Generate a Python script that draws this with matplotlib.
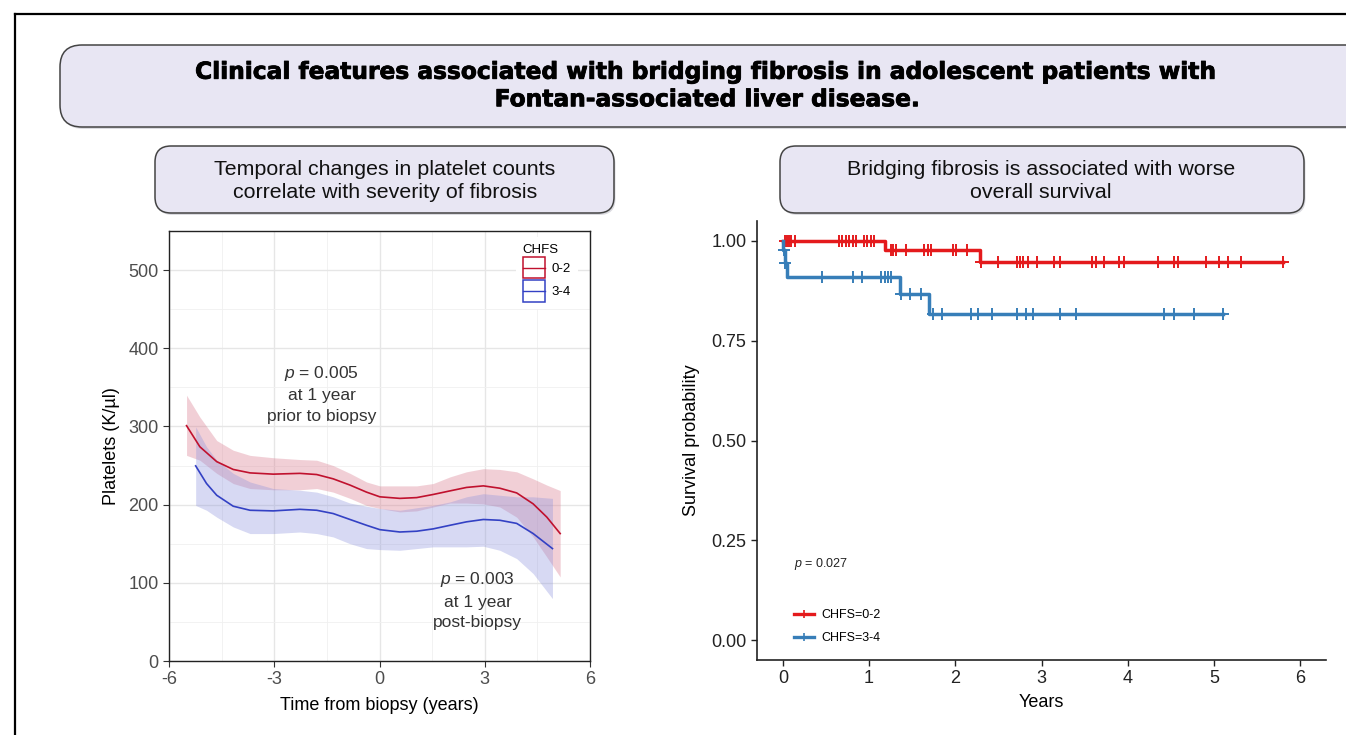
import numpy as np
import matplotlib
matplotlib.use("Agg")
import matplotlib.pyplot as plt
from matplotlib.patches import FancyBboxPatch, Rectangle
from matplotlib.lines import Line2D
from matplotlib.legend_handler import HandlerBase
import matplotlib.patheffects as pe

plt.rcParams['font.family'] = ['Liberation Sans', 'DejaVu Sans']
plt.rcParams['mathtext.fontset'] = 'custom'
plt.rcParams['mathtext.it'] = 'Liberation Sans:italic'
plt.rcParams['mathtext.rm'] = 'Liberation Sans'
plt.rcParams['axes.unicode_minus'] = False

# ---- left panel: smoothed platelet counts (loess fit + CI)
red_x = [-5.50, -5.12, -4.64, -4.17, -3.69, -3.03, -2.27, -1.79, -1.32, -0.84, -0.37, 0.01,
         0.58, 1.06, 1.53, 2.01, 2.48, 2.96, 3.43, 3.91, 4.38, 4.77, 5.15]
red_fit = [301, 274, 255, 245, 240.6, 239, 240, 238.5, 233, 225, 216, 210,
           208, 209, 213, 217.6, 222, 224, 221, 215, 201, 184, 163]
red_hi = [340, 312, 282, 269.6, 263, 260, 257.7, 256.8, 250, 240, 229, 224,
          224, 224, 227, 235.5, 242, 246, 245, 242, 233, 225, 218]
red_lo = [263, 256.8, 240, 227, 220.6, 219, 219, 220.6, 216, 208, 199, 195,
          190.7, 192, 197, 202, 202, 201, 197, 184, 158.7, 133, 107.5]

blue_x = [-5.24, -4.93, -4.64, -4.17, -3.69, -3.03, -2.27, -1.79, -1.32, -0.84, -0.37, 0.01,
          0.58, 1.06, 1.53, 2.01, 2.48, 2.96, 3.43, 3.91, 4.38, 4.93]
blue_fit = [249.6, 227, 212, 198, 192.8, 192, 194, 192.8, 188.6, 181, 173.6, 168,
            165, 166, 169, 173.6, 178, 181, 180, 176, 163, 143.8]
blue_hi = [299.5, 274, 257, 240, 229, 220.6, 218.4, 216, 210, 202, 198, 195,
           192.8, 196, 199, 203.5, 210, 214, 212, 210, 210, 208]
blue_lo = [199, 192.8, 184, 171.5, 163, 163, 165, 163, 158.7, 150, 143.8, 142.5,
           141.6, 143.8, 146, 146, 146, 146.8, 141.6, 131, 111.8, 79.8]

groups_left = ["0-2", "3-4"]

# ---- right panel: Kaplan-Meier
km_red_t = [0.0, 1.18, 2.29]
km_red_s = [1.0, 0.978, 0.948]
km_red_end = 5.80
km_red_cens = [0.02, 0.05, 0.07, 0.10, 0.14, 0.65, 0.69, 0.73, 0.77, 0.81, 0.85, 0.94, 0.98,
               1.02, 1.06, 1.25, 1.28, 1.31, 1.43, 1.64, 1.68, 1.72, 1.97, 2.01, 2.14, 2.30,
               2.49, 2.72, 2.75, 2.78, 2.84, 2.95, 3.15, 3.21, 3.59, 3.63, 3.73, 3.90, 3.96,
               4.35, 4.54, 4.58, 4.91, 5.06, 5.16, 5.31, 5.80]

km_blue_t = [0.0, 0.005, 0.025, 0.045, 1.36, 1.69]
km_blue_s = [1.0, 0.977, 0.946, 0.909, 0.867, 0.816]
km_blue_end = 5.10
km_blue_cens = [0.01, 0.03, 0.45, 0.81, 0.92, 1.14, 1.19, 1.22, 1.25, 1.37, 1.48, 1.60, 1.74,
                1.85, 2.18, 2.26, 2.43, 2.72, 2.82, 2.90, 3.21, 3.40, 4.42, 4.54, 4.77, 5.10]

groups_right = ["CHFS=0-2", "CHFS=3-4"]

W, H = 1346, 735
fig = plt.figure(figsize=(W / 100, H / 100), dpi=100)

# background layer in pixel coordinates for boxes and frame
bg = fig.add_axes([0, 0, 1, 1])
bg.set_xlim(0, W)
bg.set_ylim(H, 0)
bg.axis("off")

bg.plot([15, W + 5], [14, 14], color="black", lw=1.6)
bg.plot([15, 15], [14, H + 5], color="black", lw=1.6)

box_fc = "#e8e6f3"
box_ec = "#444444"


def rbox(x0, y0, x1, y1, r):
    # faint shadow then the box
    bg.add_patch(FancyBboxPatch((x0 + 1.5, y0 + 2), x1 - x0, y1 - y0,
                                boxstyle=f"round,pad=0,rounding_size={r}",
                                fc="#9a98a8", ec="none", alpha=0.35))
    bg.add_patch(FancyBboxPatch((x0, y0), x1 - x0, y1 - y0,
                                boxstyle=f"round,pad=0,rounding_size={r}",
                                fc=box_fc, ec=box_ec, lw=1.1))


rbox(60, 45, 1400, 127, 22)
rbox(155, 146, 614, 213, 16)
rbox(780, 146, 1304, 213, 16)

bg.text(708, 86, "Clinical features associated with bridging fibrosis in adolescent patients with\n"
        "Fontan-associated liver disease.", ha="center", va="center", fontsize=16.8,
        family="DejaVu Sans", fontweight="bold", linespacing=1.25, color="black",
        path_effects=[pe.withStroke(linewidth=0.6, foreground="black")])
bg.text(385, 181, "Temporal changes in platelet counts\ncorrelate with severity of fibrosis",
        ha="center", va="center", fontsize=15.4, linespacing=1.3, color="#111111")
bg.text(1041, 181, "Bridging fibrosis is associated with worse\noverall survival",
        ha="center", va="center", fontsize=15.4, linespacing=1.3, color="#111111")

# ---------------- left panel
red_c = "#c0112e"
blue_c = "#3341c4"

axL = fig.add_axes([169 / W, 1 - 661 / H, (590 - 169) / W, (661 - 231) / H])
axL.fill_between(red_x, red_lo, red_hi, color="#d9788c", alpha=0.35, lw=0)
axL.fill_between(blue_x, blue_lo, blue_hi, color="#8d93dd", alpha=0.35, lw=0)
axL.plot(red_x, red_fit, color=red_c, lw=1.2)
axL.plot(blue_x, blue_fit, color=blue_c, lw=1.2)
axL.set_xlim(-6, 6)
axL.set_ylim(0, 550)
axL.set_xticks([-6, -3, 0, 3, 6])
axL.set_xticks([-4.5, -1.5, 1.5, 4.5], minor=True)
axL.set_yticks([0, 100, 200, 300, 400, 500])
axL.set_yticks([50, 150, 250, 350, 450, 550], minor=True)
axL.grid(which="major", color="#e6e6e6", lw=1.0)
axL.grid(which="minor", color="#f0f0f0", lw=0.6)
axL.set_axisbelow(True)
axL.tick_params(which="major", labelsize=13, labelcolor="#4d4d4d", color="#333333",
                length=4, width=0.8)
axL.tick_params(which="minor", length=0)
for s in axL.spines.values():
    s.set_color("#222222")
    s.set_linewidth(1.0)
axL.set_xlabel("Time from biopsy (years)", fontsize=13, labelpad=6)
axL.set_ylabel("Platelets (K/µl)", fontsize=13, labelpad=6)

axL.text(-1.65, 342, "$\\mathit{p}$ = 0.005\nat 1 year\nprior to biopsy", ha="center",
         va="center", fontsize=12.5, color="#333333", linespacing=1.45)
axL.text(2.8, 78, "$\\mathit{p}$ = 0.003\nat 1 year\npost-biopsy", ha="center",
         va="center", fontsize=12.5, color="#333333", linespacing=1.45)


class HandlerKey(HandlerBase):
    # ggplot-like legend key: square outlined box with a line through the middle
    def create_artists(self, legend, orig_handle, xdescent, ydescent, width, height,
                       fontsize, trans):
        c = orig_handle.get_color()
        size = 15.6
        cx = -xdescent + width / 2
        cy = -ydescent + height / 2
        rect = Rectangle((cx - size / 2, cy - size / 2), size, size, fc="white", ec=c,
                         lw=1.1, transform=trans)
        line = Line2D([cx - size / 2, cx + size / 2], [cy, cy], color=c, lw=1.0,
                      transform=trans)
        return [rect, line]


hL = [Line2D([], [], color=red_c), Line2D([], [], color=blue_c)]
legL = axL.legend(hL, groups_left, handler_map={Line2D: HandlerKey()},
                  title="CHFS", loc="upper right", bbox_to_anchor=(0.98, 0.995),
                  fontsize=9.5, title_fontsize=9.5, frameon=True, fancybox=False,
                  edgecolor="none", facecolor="white", framealpha=1,
                  handlelength=1.7, handleheight=2.25, labelspacing=0.05, handletextpad=0.5,
                  borderpad=0.5, borderaxespad=0.3)
legL._legend_box.align = "left"

# ---------------- right panel
km_red_c = "#e41a1c"
km_blue_c = "#377eb8"

axR = fig.add_axes([757 / W, 1 - 660 / H, (1326 - 757) / W, (660 - 221) / H])


def km_draw(ax, t, s, end, cens, color):
    tt = list(t) + [end]
    ss = list(s) + [s[-1]]
    ax.step(tt, ss, where="post", color=color, lw=2.5)
    idx = np.searchsorted(np.array(t), np.array(cens), side="right") - 1
    ax.plot(cens, np.array(s)[idx], ls="none", marker="+", ms=8, mew=1.4, color=color)


km_draw(axR, km_red_t, km_red_s, km_red_end, km_red_cens, km_red_c)
km_draw(axR, km_blue_t, km_blue_s, km_blue_end, km_blue_cens, km_blue_c)
axR.set_xlim(-0.3, 6.3)
axR.set_ylim(-0.05, 1.05)
axR.set_xticks(range(0, 7))
axR.set_yticks([0, 0.25, 0.5, 0.75, 1.0])
axR.set_yticklabels(["0.00", "0.25", "0.50", "0.75", "1.00"])
axR.spines["top"].set_visible(False)
axR.spines["right"].set_visible(False)
for s in ("left", "bottom"):
    axR.spines[s].set_linewidth(1.2)
    axR.spines[s].set_color("#222222")
axR.tick_params(labelsize=13, labelcolor="#222222", color="#222222", length=4, width=1)
axR.set_xlabel("Years", fontsize=13, labelpad=5)
axR.set_ylabel("Survival probability", fontsize=13, labelpad=8)
axR.text(0.13, 0.19, "$\\mathit{p}$ = 0.027", fontsize=9, ha="left", va="center",
         color="#222222")

hR = [Line2D([], [], color=km_red_c, lw=2.4, marker="+", ms=6, mew=1.2),
      Line2D([], [], color=km_blue_c, lw=2.4, marker="+", ms=6, mew=1.2)]
axR.legend(hR, groups_right, loc="lower left", bbox_to_anchor=(0.045, 0.01), fontsize=9,
           frameon=False, handlelength=1.6, labelspacing=0.9, handletextpad=0.6)

fig.savefig("out.png", dpi=100)
